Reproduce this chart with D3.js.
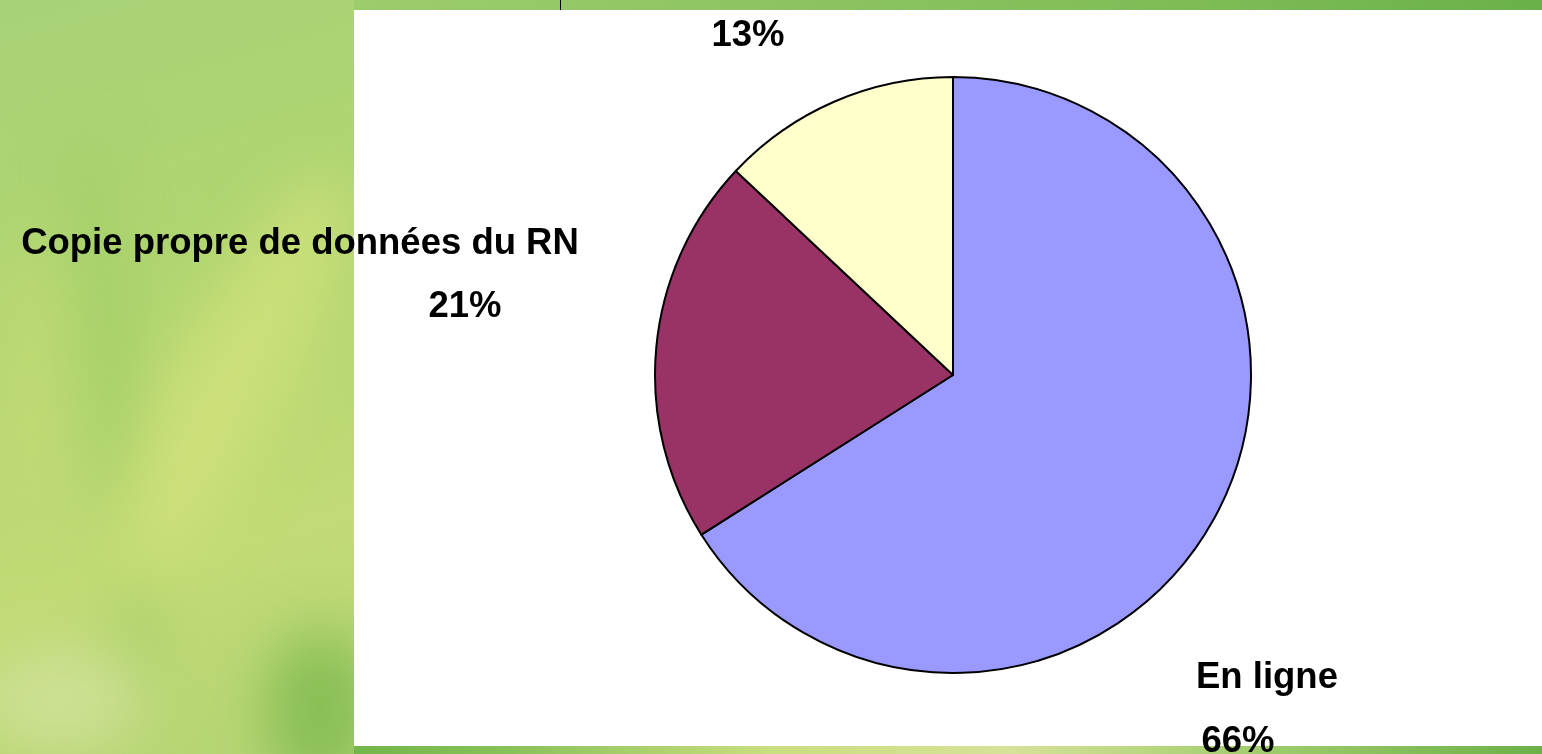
<!DOCTYPE html>
<html>
<head>
<meta charset="utf-8">
<script src="https://cdn.jsdelivr.net/npm/d3@7"></script>
<style>
  html, body { margin: 0; padding: 0; overflow: hidden; background: #a8d070; }
  text { font-family: "Liberation Sans", Arial, sans-serif; font-weight: bold; fill: #000; }
</style>
</head>
<body>
<script>
// data
const categories = ["En ligne", "Copie propre de données du RN", ""];
const values = [66, 21, 13];
const colors = ["#9999FF", "#993366", "#FFFFCC"];

const W = 1542, H = 754;
const svg = d3.select("body").append("svg").attr("width", W).attr("height", H);
const defs = svg.append("defs");

// background
const gLeft = defs.append("linearGradient").attr("id", "gLeft")
    .attr("x1", 0).attr("y1", 0).attr("x2", 0.6).attr("y2", 1);
[[0, "#a8d277"], [0.35, "#b2d670"], [0.6, "#c2db76"], [0.85, "#b4d474"], [1, "#a6cf70"]]
    .forEach(s => gLeft.append("stop").attr("offset", s[0]).attr("stop-color", s[1]));

const gTop = defs.append("linearGradient").attr("id", "gTop");
[[0, "#9ccd6c"], [0.3, "#90c563"], [0.7, "#7fbc56"], [1, "#6ab14a"]]
    .forEach(s => gTop.append("stop").attr("offset", s[0]).attr("stop-color", s[1]));

const gBot = defs.append("linearGradient").attr("id", "gBot");
[[0, "#73b64b"], [0.12, "#86c058"], [0.35, "#c9de7e"], [0.55, "#d6e298"], [0.78, "#9ccb6a"], [1, "#6cb048"]]
    .forEach(s => gBot.append("stop").attr("offset", s[0]).attr("stop-color", s[1]));

defs.append("filter").attr("id", "blur").attr("x", "-50%").attr("y", "-50%")
    .attr("width", "200%").attr("height", "200%")
    .append("feGaussianBlur").attr("stdDeviation", 28);

svg.append("rect").attr("width", W).attr("height", H).attr("fill", "url(#gLeft)");

const spots = svg.append("g").attr("filter", "url(#blur)");
spots.append("ellipse").attr("cx", 0).attr("cy", 0).attr("rx", 22).attr("ry", 300)
    .attr("transform", "translate(115,420) rotate(-6)")
    .attr("fill", "#98c960").attr("opacity", 0.6);
spots.append("ellipse").attr("cx", 0).attr("cy", 0).attr("rx", 55).attr("ry", 230)
    .attr("transform", "translate(230,380) rotate(28)")
    .attr("fill", "#d4e37e").attr("opacity", 0.7);
spots.append("ellipse").attr("cx", 60).attr("cy", 700).attr("rx", 80).attr("ry", 50)
    .attr("fill", "#d2e29c").attr("opacity", 0.8);
spots.append("ellipse").attr("cx", 320).attr("cy", 710).attr("rx", 55).attr("ry", 80)
    .attr("fill", "#78b74c").attr("opacity", 0.75);
spots.append("ellipse").attr("cx", 30).attr("cy", 380).attr("rx", 35).attr("ry", 140)
    .attr("fill", "#c6dc76").attr("opacity", 0.6);

svg.append("rect").attr("x", 354).attr("y", 0).attr("width", W - 354).attr("height", 10)
    .attr("fill", "url(#gTop)");
svg.append("rect").attr("x", 354).attr("y", 746).attr("width", W - 354).attr("height", 8)
    .attr("fill", "url(#gBot)");

// plot area
svg.append("rect").attr("x", 354).attr("y", 10).attr("width", W - 354).attr("height", 736)
    .attr("fill", "#fff");

// leader line of the top label
svg.append("line").attr("x1", 560.5).attr("x2", 560.5).attr("y1", 0).attr("y2", 10)
    .attr("stroke", "#000").attr("stroke-width", 1);

// pie
const cx = 953, cy = 375, R = 298;
const pie = d3.pie().sort(null).value(d => d)(values);
const arc = d3.arc().innerRadius(0).outerRadius(R);

svg.append("g").attr("transform", `translate(${cx},${cy})`)
    .selectAll("path").data(pie).join("path")
    .attr("d", arc)
    .attr("fill", (d, i) => colors[i])
    .attr("stroke", "#000").attr("stroke-width", 2).attr("stroke-linejoin", "round");

// labels (moved by hand in the original, so placed per slice)
const fs = 36.5;
const labelPos = [
    { name: [1267, 688], pct: [1238, 752] },
    { name: [300, 254], pct: [465, 317] },
    { name: null, pct: [748, 46] }
];
const total = d3.sum(values);
const labels = svg.append("g").style("font-size", fs + "px").attr("text-anchor", "middle");
pie.forEach((d, i) => {
    const p = labelPos[i];
    if (p.name && categories[i]) {
        labels.append("text").attr("x", p.name[0]).attr("y", p.name[1]).text(categories[i]);
    }
    labels.append("text").attr("x", p.pct[0]).attr("y", p.pct[1])
        .text(Math.round(d.value / total * 100) + "%");
});
</script>
</body>
</html>
